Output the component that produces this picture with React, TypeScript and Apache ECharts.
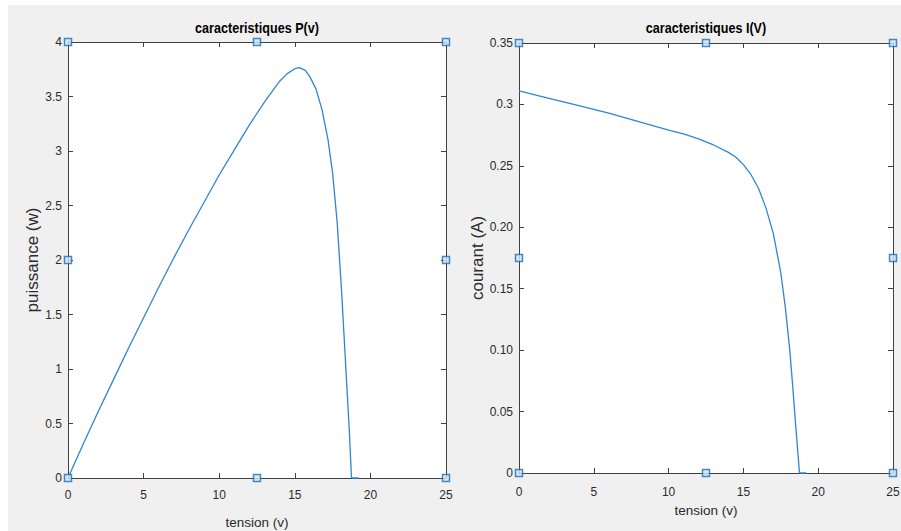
import React, { useEffect, useRef } from "react";
import * as echarts from "echarts";

// P(v) curve
const pV = [0, 1, 2, 3, 4, 5, 6, 7, 8, 9, 10, 11, 12, 13, 14, 14.5, 15, 15.3, 15.7, 16, 16.4, 16.8, 17.2, 17.5, 17.8, 18.1, 18.4, 18.6, 18.75, 19.2];
const pW = [0, 0.31, 0.61, 0.9, 1.19, 1.47, 1.75, 2.02, 2.28, 2.53, 2.78, 3.01, 3.24, 3.45, 3.64, 3.71, 3.755, 3.765, 3.74, 3.68, 3.57, 3.38, 3.1, 2.8, 2.35, 1.7, 0.95, 0.45, 0, 0];

// I(V) curve
const iV = [0, 2, 4, 6, 8, 10, 11, 12, 13, 14, 14.5, 15, 15.5, 16, 16.5, 17, 17.5, 17.8, 18.1, 18.3, 18.5, 18.75, 19.2];
const iA = [0.311, 0.305, 0.299, 0.293, 0.286, 0.279, 0.276, 0.272, 0.267, 0.261, 0.257, 0.251, 0.243, 0.232, 0.216, 0.195, 0.163, 0.135, 0.1, 0.07, 0.038, 0, 0];

// selection handle markers
const handlesP = [[0, 0], [12.5, 0], [25, 0], [0, 2], [25, 2], [0, 4], [12.5, 4], [25, 4]];
const handlesI = [[0, 0], [12.5, 0], [25, 0], [0, 0.175], [25, 0.175], [0, 0.35], [12.5, 0.35], [25, 0.35]];

const titles = ["caracteristiques P(v)", "caracteristiques I(V)"];
const xName = "tension (v)";
const yNames = ["puissance (w)", "courant (A)"];
const iTickLabels: Record<string, string> = {
  "0": "0", "0.05": "0.05", "0.1": "0.10", "0.15": "0.15", "0.2": "0.20", "0.25": "0.25", "0.3": "0.3", "0.35": "0.35",
};

const FONT = '"Liberation Sans", Arial, sans-serif';
const AXIS_COLOR = "#404040";
const LABEL_COLOR = "#2b2b2b";
const LINE_COLOR = "#2e87d0";

export default function App() {
  const ref = useRef<HTMLDivElement>(null);
  useEffect(() => {
    document.body.style.margin = "0";
    if (!ref.current) return;
    const chart = echarts.init(ref.current, undefined, { renderer: "svg" });

    const grids = [
      { left: 68, top: 42, width: 378, height: 436 },
      { left: 519, top: 43, width: 374, height: 430 },
    ];

    const tick = { show: true, inside: true, length: 5, lineStyle: { color: AXIS_COLOR, width: 1 } };
    const line = { show: true, onZero: false, lineStyle: { color: AXIS_COLOR, width: 1 } };
    const lbl = { color: LABEL_COLOR, fontSize: 12, fontFamily: FONT };

    const xAxes: any[] = [];
    const yAxes: any[] = [];
    [0, 1].forEach((g) => {
      xAxes.push({
        type: "value", gridIndex: g, position: "bottom", min: 0, max: 25, interval: 5,
        axisLine: line, axisTick: tick, splitLine: { show: false },
        axisLabel: { ...lbl, margin: g === 0 ? 11 : 13 },
        name: xName, nameLocation: "middle", nameGap: g === 0 ? 37 : 30,
        nameTextStyle: { color: LABEL_COLOR, fontSize: 13.5, fontFamily: FONT },
      });
      xAxes.push({
        type: "value", gridIndex: g, position: "top", min: 0, max: 25, interval: 5,
        axisLine: line, axisTick: tick, splitLine: { show: false }, axisLabel: { show: false },
      });
      yAxes.push({
        type: "value", gridIndex: g, position: "left", min: 0,
        max: g === 0 ? 4 : 0.35, interval: g === 0 ? 0.5 : 0.05,
        axisLine: line, axisTick: tick, splitLine: { show: false },
        axisLabel: {
          ...lbl, margin: 6,
          formatter: g === 0
            ? (v: number) => String(Math.round(v * 10) / 10)
            : (v: number) => iTickLabels[String(Math.round(v * 100) / 100)] ?? String(v),
        },
        name: yNames[g], nameLocation: "middle", nameGap: g === 0 ? 15 : 17,
        nameTextStyle: { color: LABEL_COLOR, fontSize: 17, fontFamily: FONT },
      });
      yAxes.push({
        type: "value", gridIndex: g, position: "right", min: 0,
        max: g === 0 ? 4 : 0.35, interval: g === 0 ? 0.5 : 0.05,
        axisLine: line, axisTick: tick, splitLine: { show: false }, axisLabel: { show: false },
      });
    });

    const handleStyle = { color: "#d2e4f5", borderColor: "#1c6db3", borderWidth: 1.5 };

    chart.setOption({
      animation: false,
      backgroundColor: "#f0f0f0",
      grid: grids.map((g) => ({
        ...g, show: true, backgroundColor: "#ffffff", borderWidth: 0, containLabel: false, outerBoundsMode: "none",
      })),
      xAxis: xAxes,
      yAxis: yAxes,
      graphic: [
        { type: "rect", shape: { x: 0, y: 0, width: 901, height: 5 }, style: { fill: "#ffffff" }, z: 100 },
        { type: "rect", shape: { x: 0, y: 0, width: 8, height: 531 }, style: { fill: "#ffffff" }, z: 100 },
        {
          type: "text", x: 257, y: 28, z: 100, scaleX: 0.84,
          style: { text: titles[0], fill: "#000", font: `bold 15px ${FONT}`, align: "center", verticalAlign: "middle" },
        },
        {
          type: "text", x: 706, y: 28, z: 100, scaleX: 0.84,
          style: { text: titles[1], fill: "#000", font: `bold 15px ${FONT}`, align: "center", verticalAlign: "middle" },
        },
      ],
      series: [
        {
          type: "line", xAxisIndex: 0, yAxisIndex: 0, data: pV.map((v, i) => [v, pW[i]]),
          showSymbol: false, lineStyle: { color: LINE_COLOR, width: 1.3 }, clip: false,
        },
        {
          type: "line", xAxisIndex: 2, yAxisIndex: 2, data: iV.map((v, i) => [v, iA[i]]),
          showSymbol: false, lineStyle: { color: LINE_COLOR, width: 1.3 }, clip: false,
        },
        {
          type: "scatter", xAxisIndex: 0, yAxisIndex: 0, data: handlesP, symbol: "rect", symbolSize: 7,
          itemStyle: handleStyle, clip: false, z: 5,
        },
        {
          type: "scatter", xAxisIndex: 2, yAxisIndex: 2, data: handlesI, symbol: "rect", symbolSize: 7,
          itemStyle: handleStyle, clip: false, z: 5,
        },
      ],
    });
    return () => chart.dispose();
  }, []);
  return <div ref={ref} style={{ width: 901, height: 531 }} />;
}
